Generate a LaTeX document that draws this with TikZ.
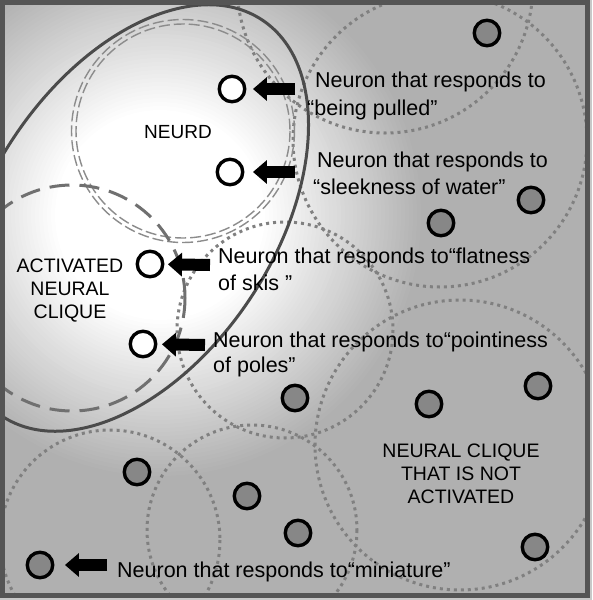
\documentclass[tikz,border=0pt]{standalone}
\usepackage{fontspec}
\setmainfont{Liberation Sans}
\usetikzlibrary{arrows.meta}
\definecolor{bggray}{RGB}{176,176,176}
\definecolor{outgray}{RGB}{200,200,200}
\definecolor{dotgray}{RGB}{128,128,128}
\definecolor{neurgray}{RGB}{135,135,135}
\definecolor{framegray}{RGB}{85,85,85}
\definecolor{ellgray}{RGB}{75,75,75}
\definecolor{dashgray}{RGB}{112,112,112}
\definecolor{ddgray}{RGB}{140,140,140}
\begin{document}
\begin{tikzpicture}[x=1pt,y=-1pt,
  dotc/.style={draw=dotgray, line width=3pt, dash pattern=on 3pt off 4pt},
  act/.style={circle, draw=black, line width=3.4pt, fill=white, minimum size=25.5pt, inner sep=0pt},
  inact/.style={circle, draw=black, line width=3.4pt, fill=neurgray, minimum size=25.5pt, inner sep=0pt},
  bigarrow/.style={line width=12pt, draw=black, -{Triangle[length=14pt,width=23pt]}},
  ntext/.style={font=\fontsize{21.5}{26}\selectfont, inner sep=0pt, anchor=base west},
  clab/.style={font=\fontsize{19.5}{23}\selectfont, inner sep=0pt, anchor=base}]
\useasboundingbox (0,0) rectangle (592,600);
\fill[outgray] (0,0) rectangle (592,600);
\begin{scope}
  \clip (2,2) rectangle (587,595);
  \fill[bggray] (2,2) rectangle (587,595);
  % soft white glow
  \foreach \i in {0,...,40}{
    \pgfmathsetmacro\rr{265-4*\i}
    \pgfmathsetmacro\pp{max(0,min(100,100*(\rr-105)/160))}
    \fill[bggray!\pp!white] (160,215) circle (\rr);
  }
  % dotted cliques
  \draw[dotc] (440,140) circle (147);
  \draw[dotc] (385,-15) circle (148);
  \draw[dotc] (285,330) circle (108);
  \draw[dotc] (252,530) circle (105);
  \draw[dotc] (110,540) circle (110);
  \draw[dotc] (460,445) circle (145);
  % NEURD double dashed circle
  \draw[ddgray, line width=1.4pt, dash pattern=on 11pt off 4pt] (183,131) circle (107);
  \draw[ddgray, line width=1.4pt, dash pattern=on 11pt off 4pt] (183,131) circle (111.5);
  % activated clique
  \draw[dashgray, line width=3pt, dash pattern=on 20pt off 10pt] (72,298) circle (113);
  % big ellipse
  \draw[ellgray, line width=3pt, rotate around={56.8:(132,218)}] (132,218) ellipse [x radius=237, y radius=143];
\end{scope}
\draw[framegray, line width=5pt] (2.5,2.5) rectangle (587,595);

% activated neurons
\node[act] (a1) at (232,89) {};
\node[act] (a2) at (230,172) {};
\node[act] (a3) at (150,264) {};
\node[act] (a4) at (143,344) {};
% inactive neurons
\node[inact] (g1) at (487,33) {};
\node[inact] (g2) at (531,200) {};
\node[inact] (g3) at (441,223) {};
\node[inact] (g4) at (295,398) {};
\node[inact] (g5) at (429,404) {};
\node[inact] (g6) at (538,386) {};
\node[inact] (g7) at (137,472) {};
\node[inact] (g8) at (247,496) {};
\node[inact] (g9) at (298,533) {};
\node[inact] (g10) at (535,547) {};
\node[inact] (g11) at (40,565) {};

% arrows
\coordinate (t1) at (295,89);
\coordinate (t2) at (295,172);
\coordinate (t3) at (210,265);
\coordinate (t4) at (205,345);
\coordinate (t5) at (107,565);
\draw[bigarrow, shorten >=6.5pt] (t1) -- (a1);
\draw[bigarrow, shorten >=8.5pt] (t2) -- (a2);
\draw[bigarrow, shorten >=3.5pt] (t3) -- (a3);
\draw[bigarrow, shorten >=4.5pt] (t4) -- (a4);
\draw[bigarrow, shorten >=10.5pt] (t5) -- (g11);

% texts
\node[ntext] (l1a) at (315,87) {Neuron that responds to};
\node[ntext] (l1b) at (307,115) {“being pulled”};
\node[ntext] (l2a) at (317,167) {Neuron that responds to};
\node[ntext] (l2b) at (313,194) {“sleekness of water”};
\node[ntext] (l3a) at (218,263) {Neuron that responds to“flatness};
\node[ntext] (l3b) at (218,290) {of skis ”};
\node[ntext] (l4a) at (213,347) {Neuron that responds to“pointiness};
\node[ntext] (l4b) at (213,372) {of poles”};
\node[ntext] (l5) at (117,577) {Neuron that responds to“miniature”};

\node[clab, font=\fontsize{19}{23}\selectfont] (neurd) at (178,138) {NEURD};
\node[clab] (ac1) at (70,272) {ACTIVATED};
\node[clab] (ac2) at (70,295) {NEURAL};
\node[clab] (ac3) at (70,318) {CLIQUE};
\node[clab] (nc1) at (461,457) {NEURAL CLIQUE};
\node[clab] (nc2) at (461,480) {THAT IS NOT};
\node[clab] (nc3) at (461,503) {ACTIVATED};
\end{tikzpicture}
\end{document}
